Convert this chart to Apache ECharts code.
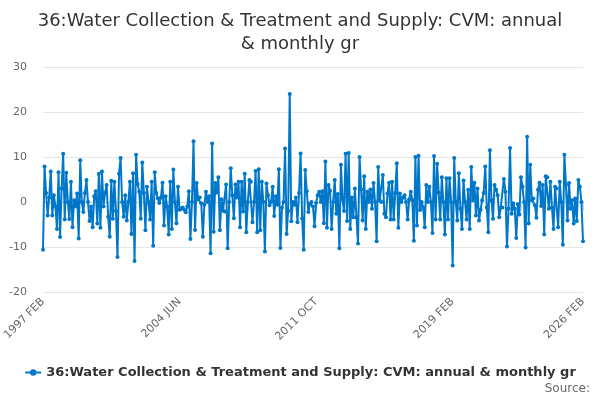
<!DOCTYPE html>
<html>
<head>
<meta charset="utf-8">
<script src="https://cdn.jsdelivr.net/npm/echarts@6/dist/echarts.min.js"></script>
<style>
    html, body {margin: 0; padding: 0; background: #fff;}
    #chart {width: 600px; height: 400px;}
</style>
</head>
<body>
<div id="chart"></div>
<script>
var seriesName = '36:Water Collection & Treatment and Supply: CVM: annual & monthly gr';
var startYear = 1997;
var startMonth = 1; // FEB (0 based)
var monthNames = ['JAN', 'FEB', 'MAR', 'APR', 'MAY', 'JUN', 'JUL', 'AUG', 'SEP', 'OCT', 'NOV', 'DEC'];
var yTicks = [-20, -10, 0, 10, 20, 30];

// growth rate, % (1997 FEB .. 2026 FEB)
var values1997 = [-10.6, 7.9, 2, -3, 1, 6.8, -3, 1.5, -1, -6, 6.6, -7.8, 3, 10.7, -3.9, 6.5, 0, -3.8, 4.5, -5.6,
    0.4, -1, 1.9, -8.1, 9.3, 0, -2.2, 2, 4.9, 0, -4.2, -1, -5.6, 1.3, 2.4, -4.8, 6.3, -5.7, 6.8, -1,
    2, 3.8, -3.3, -7.7, 4.7, -3.7, 4.5, -2, -12.2, 6.3, 9.8, 0, -3.3, 1.5, -4.1, 0, 4.5, -7.1];
var values2001 = [6.4, -13.1, 10.5, 4, 2.3, -3.7, 8.8, 2, -6.3, 3.4, 0, -3.9, 4.5, -9.7, 6.6, 2, 0.8, -0.2, 1, 4.3,
    -5.2, 1.3, -1, -7.2, 4.5, -6, 7.2, 0, -4.7, 3.4, -1.7, -1.5, -1.2, -1.7, -2.3, -1, 2.4, -8.2, 0, 13.5,
    -6.2, 4.2, 0.6, 1, -0.3, -7.7, -0.6, 2.3, 0, 1.3, -11.4, 13, -6.6, 4.2, 2.1, 5.5, -6.3, 0.6];
var values2006 = [-1.9, -2.1, 3.9, -10.3, 0, 7.5, 1.5, -3.6, 3.9, 1, 4.5, -5.6, 4.5, -2.1, 6.3, -6.7, 0, 4.9, 4.5, -4.5,
    0, 6.9, -6.7, 7.3, -6.3, 4.5, 0, -11, 4.1, 1.5, -0.7, 0, 3.4, -3.1, 1.3, -0.6, 7.3, -10.2, -1.3, 0,
    11.9, -7.1, -2, 24, -4.3, 0, -0.6, 1, -4.5, 2, 10.8, -3.6, -10.6, 7.1, 2.4, -2.2, -0.4, 0];
var values2011 = [-1, -5.4, -0.2, 1.5, 2.3, 0, 2.4, -4.7, 9, -5.7, 3.8, 2.5, -6, 0, 4.9, -2.6, 1.8, -10.3, 8.3, 0.6,
    -2, 10.7, -4.2, 10.9, -6, 1, -3.4, 3, -3.4, -9.2, 10, 2.8, -4.1, 5.7, -6, 2.3, 0, 2.8, -1.5, 4.2,
    0, -8.7, 7.8, 0.4, 0, 6, -2.6, -3.4, 1.9, 4.3, -3.9, 4.5, -3.9, 2, 8.6, -5.7, 1.9, 0, 1];
var values2016 = [1.5, 0, -3.9, 0.6, 2.3, 0.4, -8.6, 10, -5.2, 10.3, -1.8, 0, -1.2, -5.6, 3.8, 0, 3.4, 0, -6.9, 10.2,
    -3.9, 8.5, 2.1, -3.9, 5.5, 0, -7.2, 5.3, -3.9, 5.3, 0, -14.1, 9.8, 0, -4.1, 6.4, -1.5, -6, 4.8, 0,
    -3.9, 2.7, -6, 7.8, 0.4, 4.3, -3, 3, -4.1, -1.7, 0.4, 2, 7.9, -1.2, -6.7, 11.5, 0.4];
var values2021 = [-3.7, 3.8, 2.7, 1.5, -3.4, -1.2, -1.2, 5.1, 2.3, -9.9, -1.5, 12, -2.6, -0.3, -1.5, -8, -0.5, -2.8, 5.5, 3.4,
    0, -10.1, 14.5, -4.8, 8.3, 0.4, 0.8, -0.7, -3.5, 2.7, 4.3, -0.9, 3.8, -7.2, 5.7, 5.5, -1.5, 4.5, -1.2, -6,
    3.4, 3, -5.6, 4.5, 0, -9.5, 10.5, 3.8, -4.1, 4.2, -1.5, 0.4, -4.8, 0.8, -4.2, 4.9, 3.4, 0, -8.7];

var values = [].concat(values1997, values2001, values2006, values2011, values2016, values2021);

var categories = function () {
    var data = [];
    for (var i = 0; i < values.length; i++) {
        var m = startMonth + i;
        data.push((startYear + Math.floor(m / 12)) + ' ' + monthNames[m % 12]);
    }
    return data;
}();

var lastIdx = categories.length - 1;
var myChart = echarts.init(document.getElementById('chart'));
var option = {
    backgroundColor: '#fff',
    animation: false,
    textStyle: {fontFamily: 'DejaVu Sans'},
    title: {
        text: '36:Water Collection & Treatment and Supply: CVM: annual\n& monthly gr',
        left: 'center', top: 5,
        textStyle: {color: '#333', fontSize: 18, fontWeight: 'normal', lineHeight: 23, fontFamily: 'DejaVu Sans'}
    },
    graphic: [
        {type: 'text', right: 10, top: 383, style: {text: 'Source:', fill: '#666', fontSize: 12, fontFamily: 'DejaVu Sans'}}
    ],
    legend: {
        bottom: 16, left: 'center',
        itemWidth: 16, itemHeight: 8,
        textStyle: {color: '#333', fontSize: 13, fontWeight: 'bold', fontFamily: 'DejaVu Sans'},
        data: [seriesName]
    },
    grid: {left: 43, right: 17, top: 67, bottom: 108},
    xAxis: {
        type: 'category', data: categories, boundaryGap: false,
        axisLine: {lineStyle: {color: '#ccd6eb'}},
        axisTick: {
            length: 9, lineStyle: {color: '#ccd6eb'},
            interval: function (idx) { return idx % 22 === 0 || idx === lastIdx; }
        },
        axisLabel: {
            rotate: 45, color: '#666', fontSize: 11, margin: 8,
            interval: function (idx) { return idx % 88 === 0 || idx === lastIdx; }
        },
        splitLine: {show: false}
    },
    yAxis: {
        type: 'value', min: yTicks[0], max: yTicks[yTicks.length - 1], interval: 10,
        axisLine: {show: false}, axisTick: {show: false},
        axisLabel: {color: '#666', fontSize: 11, margin: 16},
        splitLine: {lineStyle: {color: '#e6e6e6'}}
    },
    series: [
        {
            name: seriesName,
            type: 'line',
            data: values,
            color: '#0077c8',
            symbol: 'circle', symbolSize: 4, showAllSymbol: true,
            lineStyle: {width: 2},
            emphasis: {disabled: true}
        }
    ]
};
myChart.setOption(option);
</script>
</body>
</html>
